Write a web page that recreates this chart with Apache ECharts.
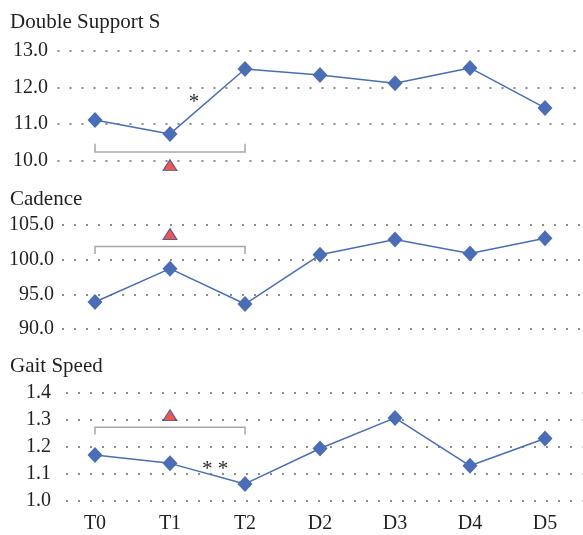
<!DOCTYPE html>
<html>
<head>
<meta charset="utf-8">
<script src="https://cdn.jsdelivr.net/npm/echarts@6/dist/echarts.min.js"></script>
<style>
  html, body { margin: 0; padding: 0; background: #fff; }
  #chart { width: 583px; height: 535px; }
</style>
</head>
<body>
<div id="chart"></div>
<script>
// Time points shared by all three panels
const categories = ['T0', 'T1', 'T2', 'D2', 'D3', 'D4', 'D5'];

// Measured values per time point
const doubleSupport = [11.11, 10.73, 12.5, 12.34, 12.11, 12.53, 11.44];
const cadence = [93.9, 98.7, 93.6, 100.7, 102.9, 100.9, 103.1];
const gaitSpeed = [1.17, 1.139, 1.063, 1.194, 1.307, 1.13, 1.231];

// Panel titles and y-axis ranges
const panelTitles = ['Double Support S', 'Cadence', 'Gait Speed'];
const yMin = [10, 90, 1.0];
const yMax = [13, 105, 1.4];
const yStep = [1, 5, 0.1];

// Significance brackets: [fromIndex, toIndex, barValue, tipValue]
const brackets = [
  [0, 2, 10.24, 10.46],
  [0, 2, 101.9, 100.8],
  [0, 2, 1.272, 1.246]
];
// Triangle markers above / below the brackets (at T1)
const triangleValues = [9.88, 103.7, 1.317];
// Asterisk notes: [fromIndex, fraction toward next, value, text, panel]
const starNotes = [
  [1, 0.32, 11.6, '*', 0],
  [1, 0.6, 1.115, '* *', 2]
];

const FONT = '"Liberation Serif", "DejaVu Serif", serif';
const TEXT = '#231f20';
const BLUE = '#4a6db5';

const grids = [
  { left: 57.5, right: 0.5, top: 50.7, height: 110 },
  { left: 57.5, right: 0.5, top: 225, height: 104 },
  { left: 57.5, right: 0.5, top: 392.7, height: 108.3 }
];
// per-panel label gap and dotted-line phase
const labelGap = [9.5, 3.5, 6.5];
const dotPhase = [0, 7.5, 3.5];

const xAxes = grids.map((g, i) => ({
  type: 'category',
  gridIndex: i,
  data: categories,
  boundaryGap: true,
  axisLine: { show: false },
  axisTick: { show: false },
  axisLabel: {
    show: i === 2,
    color: TEXT,
    fontFamily: FONT,
    fontSize: 20,
    margin: 13
  }
}));

const yAxes = grids.map((g, i) => ({
  type: 'value',
  gridIndex: i,
  min: yMin[i],
  max: yMax[i],
  interval: yStep[i],
  axisLine: { show: false },
  axisTick: { show: false },
  axisLabel: {
    color: TEXT,
    fontFamily: FONT,
    fontSize: 20,
    margin: labelGap[i],
    formatter: v => v.toFixed(1)
  },
  splitLine: {
    show: true,
    lineStyle: { color: '#8c8c8c', width: 2, type: [2, 10], dashOffset: dotPhase[i] }
  }
}));

const valueSets = [doubleSupport, cadence, gaitSpeed];

const series = [];
valueSets.forEach((vals, i) => {
  series.push({
    type: 'line',
    xAxisIndex: i,
    yAxisIndex: i,
    data: vals,
    symbol: 'diamond',
    symbolSize: [15, 16],
    lineStyle: { color: BLUE, width: 1.5 },
    itemStyle: { color: BLUE },
    silent: true,
    z: 3
  });
  // bracket spanning T0..T2
  series.push({
    type: 'custom',
    xAxisIndex: i,
    yAxisIndex: i,
    clip: false,
    silent: true,
    data: [brackets[i]],
    renderItem: (params, api) => {
      const a = api.coord([api.value(0), api.value(2)]);
      const b = api.coord([api.value(1), api.value(2)]);
      const ta = api.coord([api.value(0), api.value(3)]);
      const tb = api.coord([api.value(1), api.value(3)]);
      return {
        type: 'polyline',
        shape: { points: [[ta[0], ta[1]], [a[0], a[1]], [b[0], b[1]], [tb[0], tb[1]]] },
        style: { stroke: '#a6a6a6', lineWidth: 1.5, fill: null }
      };
    },
    z: 2
  });
  // triangle marker
  series.push({
    type: 'scatter',
    xAxisIndex: i,
    yAxisIndex: i,
    clip: false,
    silent: true,
    data: [[1, triangleValues[i]]],
    symbol: 'triangle',
    symbolSize: [14, 11],
    itemStyle: { color: '#e0302a', borderColor: '#34468a', borderWidth: 1 },
    z: 4
  });
});

// asterisk notes along the T1-T2 segment
starNotes.forEach(n => {
  series.push({
    type: 'custom',
    xAxisIndex: n[4],
    yAxisIndex: n[4],
    clip: false,
    silent: true,
    data: [[n[0], n[1], n[2]]],
    renderItem: (params, api) => {
      const p0 = api.coord([api.value(0), api.value(2)]);
      const p1 = api.coord([api.value(0) + 1, api.value(2)]);
      const f = api.value(1);
      return {
        type: 'text',
        x: p0[0] + (p1[0] - p0[0]) * f,
        y: p0[1],
        style: {
          text: n[3],
          fill: '#2b2b2b',
          font: '21px ' + FONT,
          align: 'center',
          verticalAlign: 'middle'
        }
      };
    },
    z: 5
  });
});

const titles = panelTitles.map((t, i) => ({
  text: t,
  left: 10,
  padding: 0,
  top: [12, 189, 356][i],
  textStyle: { color: TEXT, fontFamily: FONT, fontSize: 21, fontWeight: 'normal' }
}));

const chart = echarts.init(document.getElementById('chart'), null, { renderer: 'canvas' });
chart.setOption({
  animation: false,
  backgroundColor: '#fff',
  title: titles,
  grid: grids,
  xAxis: xAxes,
  yAxis: yAxes,
  series: series
});
</script>
</body>
</html>
